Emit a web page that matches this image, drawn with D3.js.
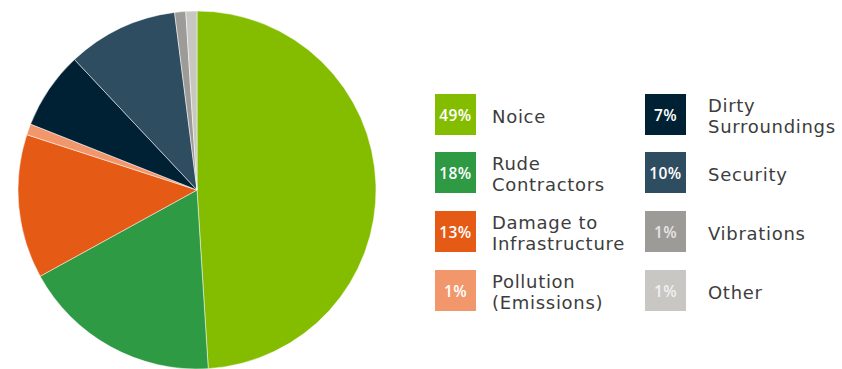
<!DOCTYPE html>
<html>
<head>
<meta charset="utf-8">
<script src="https://cdn.jsdelivr.net/npm/d3@7"></script>
<style>
  body { margin: 0; background: white; }
</style>
</head>
<body>
<div id="chart"></div>
<script>
// chart data
const categories = ["Noice", "Rude Contractors", "Damage to Infrastructure", "Pollution (Emissions)",
  "Dirty Surroundings", "Security", "Vibrations", "Other"];
const labelLines = [["Noice"], ["Rude", "Contractors"], ["Damage to", "Infrastructure"], ["Pollution", "(Emissions)"],
  ["Dirty", "Surroundings"], ["Security"], ["Vibrations"], ["Other"]];
const values = [49, 18, 13, 1, 7, 10, 1, 1];
const colors = ["#84bc00", "#2e9a44", "#e55a14", "#f1976b", "#002033", "#2f4d60", "#9d9b97", "#c8c7c3"];

const width = 842;
const height = 369;

const svg = d3.select("#chart")
  .append("svg")
  .attr("width", width)
  .attr("height", height)
  .style("font-family", "Open Sans");

// pie
const radius = 179;
const pie = d3.pie().sort(null).value(d => d)(values);
const arc = d3.arc().innerRadius(0).outerRadius(radius);

svg.append("g")
  .attr("transform", "translate(197,190)")
  .selectAll("path")
  .data(pie)
  .enter().append("path")
  .attr("d", arc)
  .attr("fill", (d, i) => colors[i])
  .attr("stroke", "white")
  .attr("stroke-width", 0.5);

// legend: two columns of four
const sq = 41;
const colX = [435, 645];
const rowY = [94, 152, 211, 270];
const textDx = [57, 63];

const legend = svg.append("g")
  .selectAll("g")
  .data(categories)
  .enter().append("g")
  .attr("transform", (d, i) => `translate(${colX[Math.floor(i / 4)]},${rowY[i % 4]})`);

legend.append("rect")
  .attr("width", sq)
  .attr("height", sq)
  .attr("fill", (d, i) => colors[i]);

legend.append("text")
  .attr("x", sq / 2)
  .attr("y", sq / 2 + 6)
  .attr("text-anchor", "middle")
  .style("font-size", "15.5px")
  .style("font-weight", 600)
  .style("letter-spacing", "0.4px")
  .style("fill", (d, i) => i >= 6 ? "rgba(255,255,255,0.75)" : "white")
  .text((d, i) => values[i] + "%");

// category names, one text per line
legend.each(function(d, i) {
  const lines = labelLines[i];
  const g = d3.select(this);
  const y0 = lines.length === 1 ? sq / 2 + 8 : sq / 2 - 2.5;
  lines.forEach((line, j) => {
    g.append("text")
      .attr("x", textDx[Math.floor(i / 4)])
      .attr("y", y0 + j * 21)
      .style("font-family", "DejaVu Sans")
      .style("font-size", "18px")
      .style("letter-spacing", "0.7px")
      .style("fill", "#3d3d3d")
      .text(line);
  });
});
</script>
</body>
</html>
